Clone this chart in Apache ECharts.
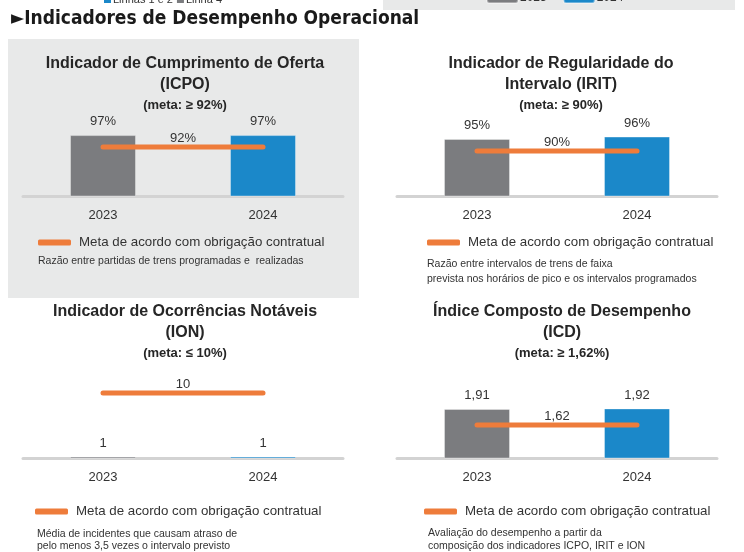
<!DOCTYPE html>
<html>
<head>
<meta charset="utf-8">
<script src="https://cdn.jsdelivr.net/npm/echarts@6/dist/echarts.min.js"></script>
<style>
	html, body { margin: 0; padding: 0; background: #fff; }
	#chart { width: 744px; height: 552px; }
</style>
</head>
<body>
<div id="chart"></div>
<script>
const years = ['2023', '2024'];
const yearColors = ['#7b7c7f', '#1b88c9'];
const topLegend = ['Linhas 1 e 2', 'Linha 4'];
const metaName = 'Meta de acordo com obrigação contratual';

const icpo = [97, 97];
const irit = [95, 96];
const ion = [1, 1];
const icd = [1.91, 1.92];
const metas = [92, 90, 10, 1.62];

const titles = [
	'Indicador de Cumprimento de Oferta\n(ICPO)',
	'Indicador de Regularidade do\nIntervalo (IRIT)',
	'Indicador de Ocorrências Notáveis\n(ION)',
	'Índice Composto de Desempenho\n(ICD)'
];
const metaTexts = ['(meta: ≥ 92%)', '(meta: ≥ 90%)', '(meta: ≤ 10%)', '(meta: ≥ 1,62%)'];
const notes = [
	'Razão entre partidas de trens programadas e  realizadas',
	'Razão entre intervalos de trens de faixa\nprevista nos horários de pico e os intervalos programados',
	'Média de incidentes que causam atraso de\npelo menos 3,5 vezes o intervalo previsto',
	'Avaliação do desempenho a partir da\ncomposição dos indicadores ICPO, IRIT e ION'
];

const FONT = '"Liberation Sans", Arial, sans-serif';
const pct = v => v + '%';
const plain = v => String(v);
const comma = v => v.toFixed(2).replace('.', ',');

// layout of the four panels
const panels = [
	{ values: icpo, fmt: pct, min: 71.6, max: 103.3, left: 23, top: 120, cx: 180, ty: 48, legX: 38, legY: 236, noteX: 38, noteY: 255, noteLH: 13 },
	{ values: irit, fmt: pct, min: 71.25, max: 102.9, left: 397, top: 120, cx: 556, ty: 48, legX: 427, legY: 236, noteX: 427, noteY: 257, noteLH: 15 },
	{ values: ion, fmt: plain, min: 0.79, max: 11.56, left: 23, top: 382, cx: 180, ty: 296, legX: 35, legY: 505, noteX: 37, noteY: 527.5, noteLH: 12.5 },
	{ values: icd, fmt: comma, min: 1.02, max: 2.4, left: 397, top: 382, cx: 557, ty: 296, legX: 424, legY: 505, noteX: 428, noteY: 527, noteLH: 13 }
];

let chart = echarts.init(document.getElementById('chart'));

let grid = [], xAxis = [], yAxis = [], series = [], title = [], legend = [];

title.push({
	text: '►Indicadores de Desempenho Operacional',
	left: 6,
	top: 5,
	textStyle: { fontFamily: '"DejaVu Sans Condensed", "Liberation Sans Narrow", sans-serif', fontSize: 19, fontWeight: 'bold', color: '#1a1a1a' }
});

panels.forEach((p, i) => {
	grid.push({ left: p.left, top: p.top, width: 320, height: 76 });
	xAxis.push({
		type: 'category',
		gridIndex: i,
		data: years,
		axisTick: { show: false },
		axisLine: { lineStyle: { color: '#d3d3d3', width: 3 } },
		axisLabel: { margin: 13, fontSize: 13, color: '#333', fontFamily: FONT }
	});
	yAxis.push({ type: 'value', gridIndex: i, min: p.min, max: p.max, show: false });

	years.forEach((y, j) => {
		series.push({
			type: 'bar',
			name: y,
			xAxisIndex: i,
			yAxisIndex: i,
			stack: 'p' + i,
			barWidth: 66,
			data: years.map((c, k) => (k === j ? p.values[k] : '-')),
			itemStyle: { color: yearColors[j], borderColor: 'rgba(255,255,255,0.35)', borderWidth: 1 },
			label: {
				show: true,
				position: 'top',
				distance: 7,
				fontSize: 13,
				color: '#333',
				fontFamily: FONT,
				formatter: o => p.fmt(o.value)
			}
		});
	});

	series.push({
		type: 'line',
		name: metaName,
		xAxisIndex: i,
		yAxisIndex: i,
		data: years.map(() => metas[i]),
		symbol: 'none',
		color: '#ee7c3b',
		lineStyle: { width: 5, color: '#ee7c3b', cap: 'round' },
		z: 5,
		markLine: {
			silent: true,
			symbol: ['none', 'none'],
			lineStyle: { color: 'transparent', width: 0 },
			label: {
				position: 'middle',
				distance: 2,
				fontSize: 13,
				color: '#333',
				fontFamily: FONT,
				formatter: () => p.fmt(metas[i])
			},
			data: [[{ coord: [years[0], metas[i]] }, { coord: [years[1], metas[i]] }]]
		}
	});

	title.push({
		text: titles[i],
		subtext: metaTexts[i],
		left: p.cx,
		top: p.ty,
		textAlign: 'center',
		itemGap: 3,
		textStyle: { fontFamily: FONT, fontSize: 16, fontWeight: 'bold', color: '#262626', lineHeight: 21 },
		subtextStyle: { fontFamily: FONT, fontSize: 13, fontWeight: 'bold', color: '#262626', lineHeight: 14 }
	});
	title.push({
		text: notes[i],
		left: p.noteX,
		top: p.noteY,
		padding: 0,
		textStyle: { fontFamily: FONT, fontSize: 10.5, fontWeight: 'normal', color: '#333', lineHeight: p.noteLH }
	});

	legend.push({
		data: [metaName],
		left: p.legX,
		top: p.legY,
		padding: 0,
		icon: 'roundRect',
		itemWidth: 33,
		itemHeight: 6,
		selectedMode: false,
		textStyle: { fontFamily: FONT, fontSize: 13.3, color: '#333', padding: [0, 0, 0, 3] }
	});
});

// cropped legends along the top edge
legend.push({
	data: topLegend,
	left: 104,
	top: -6,
	padding: 0,
	icon: 'rect',
	itemWidth: 7,
	itemHeight: 7,
	itemGap: 4,
	selectedMode: false,
	textStyle: { fontFamily: FONT, fontSize: 11, color: '#333', padding: [0, 0, 0, -3] }
});
legend.push({
	data: years,
	left: 486,
	top: -8,
	padding: 0,
	icon: 'roundRect',
	itemWidth: 31,
	itemHeight: 10,
	itemGap: 16,
	selectedMode: false,
	textStyle: { fontFamily: FONT, fontSize: 12, color: '#333', padding: [0, 0, 0, -3] }
});
topLegend.forEach((n, j) => {
	series.push({ type: 'bar', name: n, data: [], stack: 'p0', xAxisIndex: 0, yAxisIndex: 0, barWidth: 66, color: ['#1b88c9', '#7b7c7f'][j] });
});

chart.setOption({
	animation: false,
	color: yearColors,
	graphic: [
		{ type: 'rect', z: -10, shape: { x: 8, y: 39, width: 351, height: 259 }, style: { fill: '#e8e9e9' } },
		{ type: 'rect', z: -10, shape: { x: 383, y: 0, width: 352, height: 10 }, style: { fill: '#e8e9e9' } }
	],
	title,
	legend,
	grid,
	xAxis,
	yAxis,
	series
});
</script>
</body>
</html>
